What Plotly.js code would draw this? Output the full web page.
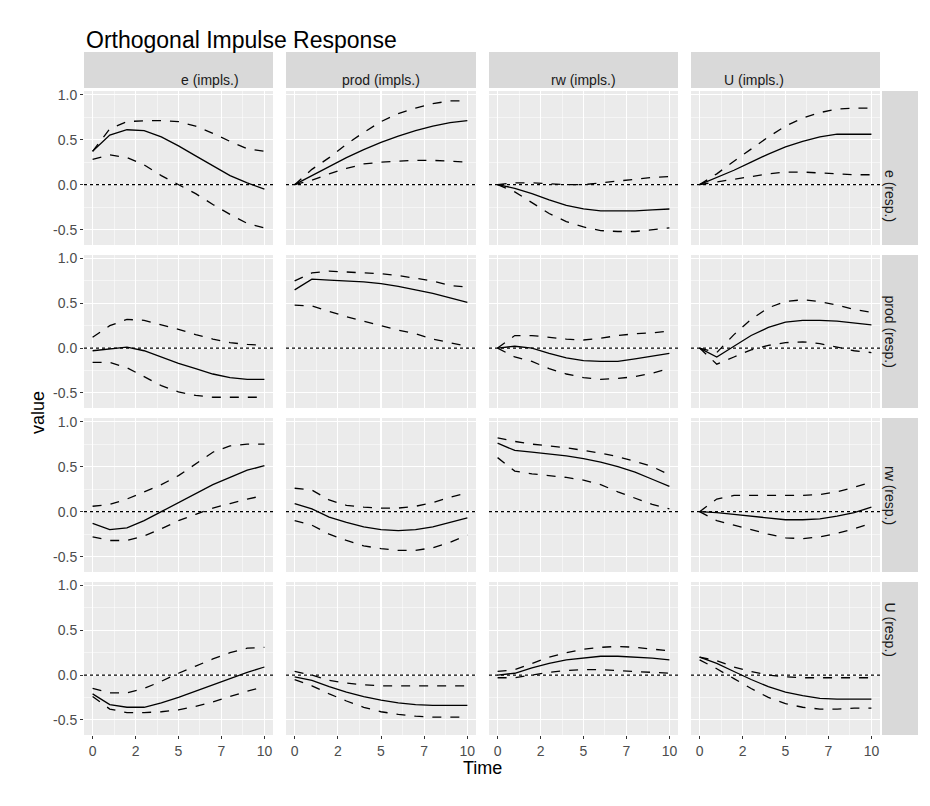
<!DOCTYPE html>
<html><head><meta charset="utf-8">
<script src="https://cdn.plot.ly/plotly-3.0.1.min.js"></script>
<style>body{margin:0}#p{width:930px;height:806px}</style></head>
<body><div id="p"></div><script>
var steps=[0,1,2,3,4,5,6,7,8,9,10];
var vars=["e","prod","rw","U"];
var xTickVals=[0,2.5,5,7.5,10], xTickText=["0","2","5","7","10"];
var yTickVals=[-0.5,0,0.5,1], yTickText=["-0.5","0.0","0.5","1.0"];
// impulse e
var irf_e_e=[0.37,0.55,0.61,0.6,0.53,0.43,0.32,0.21,0.1,0.02,-0.05];
var up_e_e=[0.37,0.62,0.7,0.71,0.71,0.7,0.65,0.57,0.48,0.4,0.37];
var lo_e_e=[0.28,0.33,0.3,0.22,0.1,0.0,-0.1,-0.22,-0.33,-0.43,-0.48];
var irf_e_prod=[-0.03,-0.01,0.01,-0.03,-0.1,-0.17,-0.23,-0.29,-0.33,-0.35,-0.35];
var up_e_prod=[0.12,0.25,0.32,0.31,0.26,0.21,0.15,0.1,0.06,0.04,0.03];
var lo_e_prod=[-0.16,-0.16,-0.22,-0.32,-0.42,-0.49,-0.53,-0.55,-0.55,-0.55,-0.55];
var irf_e_rw=[-0.13,-0.2,-0.18,-0.1,0.0,0.1,0.2,0.3,0.38,0.46,0.51];
var up_e_rw=[0.06,0.08,0.14,0.22,0.3,0.4,0.53,0.66,0.73,0.75,0.75];
var lo_e_rw=[-0.28,-0.32,-0.32,-0.27,-0.19,-0.1,-0.03,0.04,0.09,0.14,0.18];
var irf_e_U=[-0.21,-0.33,-0.36,-0.36,-0.31,-0.25,-0.18,-0.11,-0.04,0.03,0.09];
var up_e_U=[-0.15,-0.2,-0.2,-0.15,-0.07,0.02,0.1,0.18,0.25,0.3,0.31];
var lo_e_U=[-0.24,-0.38,-0.42,-0.42,-0.41,-0.39,-0.35,-0.3,-0.24,-0.18,-0.13];
// impulse prod
var irf_prod_e=[0,0.1,0.2,0.3,0.39,0.47,0.54,0.6,0.65,0.69,0.71];
var up_prod_e=[0,0.17,0.3,0.45,0.58,0.7,0.79,0.85,0.9,0.93,0.93];
var lo_prod_e=[0,0.05,0.12,0.18,0.23,0.25,0.26,0.27,0.27,0.26,0.25];
var irf_prod_prod=[0.65,0.77,0.76,0.75,0.74,0.72,0.69,0.65,0.61,0.56,0.51];
var up_prod_prod=[0.75,0.84,0.86,0.85,0.84,0.83,0.81,0.78,0.75,0.7,0.68];
var lo_prod_prod=[0.48,0.47,0.41,0.35,0.3,0.25,0.2,0.16,0.1,0.06,0.02];
var irf_prod_rw=[0.09,0.03,-0.06,-0.12,-0.17,-0.2,-0.21,-0.2,-0.17,-0.12,-0.07];
var up_prod_rw=[0.26,0.24,0.13,0.07,0.05,0.04,0.04,0.06,0.1,0.16,0.21];
var lo_prod_rw=[-0.1,-0.15,-0.25,-0.32,-0.38,-0.41,-0.43,-0.43,-0.4,-0.34,-0.26];
var irf_prod_U=[-0.02,-0.06,-0.13,-0.19,-0.24,-0.28,-0.31,-0.33,-0.34,-0.34,-0.34];
var up_prod_U=[0.04,0.0,-0.06,-0.09,-0.11,-0.12,-0.12,-0.12,-0.12,-0.12,-0.12];
var lo_prod_U=[-0.05,-0.12,-0.21,-0.29,-0.36,-0.41,-0.44,-0.46,-0.47,-0.47,-0.47];
// impulse rw
var irf_rw_e=[0,-0.04,-0.1,-0.17,-0.23,-0.27,-0.29,-0.29,-0.29,-0.28,-0.27];
var up_rw_e=[0,0.02,0.02,0.01,0.0,0.0,0.02,0.04,0.06,0.08,0.09];
var lo_rw_e=[0,-0.08,-0.2,-0.32,-0.41,-0.47,-0.51,-0.52,-0.52,-0.5,-0.48];
var irf_rw_prod=[0,0.02,0.0,-0.06,-0.11,-0.14,-0.15,-0.15,-0.12,-0.09,-0.06];
var up_rw_prod=[0,0.14,0.14,0.12,0.1,0.09,0.11,0.14,0.16,0.17,0.19];
var lo_rw_prod=[0,-0.1,-0.15,-0.23,-0.29,-0.33,-0.35,-0.34,-0.32,-0.28,-0.23];
var irf_rw_rw=[0.76,0.68,0.66,0.64,0.62,0.59,0.55,0.5,0.44,0.36,0.28];
var up_rw_rw=[0.82,0.78,0.75,0.73,0.71,0.68,0.65,0.61,0.56,0.5,0.41];
var lo_rw_rw=[0.6,0.45,0.42,0.4,0.38,0.35,0.3,0.22,0.15,0.08,0.03];
var irf_rw_U=[0.0,0.02,0.08,0.13,0.17,0.19,0.21,0.21,0.2,0.19,0.17];
var up_rw_U=[0.04,0.06,0.13,0.2,0.25,0.29,0.31,0.32,0.31,0.29,0.27];
var lo_rw_U=[-0.03,-0.03,0.0,0.03,0.05,0.06,0.06,0.05,0.04,0.03,0.02];
// impulse U
var irf_U_e=[0,0.08,0.16,0.25,0.34,0.42,0.48,0.53,0.56,0.56,0.56];
var up_U_e=[0,0.12,0.26,0.4,0.53,0.65,0.74,0.8,0.84,0.85,0.85];
var lo_U_e=[0,0.03,0.06,0.09,0.12,0.14,0.14,0.13,0.12,0.11,0.11];
var irf_U_prod=[0,-0.1,0.02,0.14,0.23,0.29,0.31,0.31,0.3,0.28,0.26];
var up_U_prod=[0,-0.05,0.15,0.32,0.45,0.52,0.54,0.52,0.48,0.43,0.4];
var lo_U_prod=[0,-0.18,-0.1,-0.02,0.03,0.06,0.07,0.05,0.01,-0.03,-0.05];
var irf_U_rw=[0,-0.01,-0.03,-0.05,-0.07,-0.09,-0.09,-0.08,-0.05,-0.01,0.05];
var up_U_rw=[0,0.14,0.18,0.18,0.18,0.18,0.18,0.19,0.22,0.27,0.33];
var lo_U_rw=[0,-0.1,-0.15,-0.2,-0.25,-0.29,-0.3,-0.28,-0.24,-0.19,-0.13];
var irf_U_U=[0.2,0.13,0.04,-0.05,-0.13,-0.19,-0.23,-0.26,-0.27,-0.27,-0.27];
var up_U_U=[0.2,0.16,0.09,0.04,0.0,-0.02,-0.03,-0.03,-0.03,-0.03,-0.03];
var lo_U_U=[0.17,0.07,-0.04,-0.15,-0.25,-0.32,-0.36,-0.38,-0.38,-0.37,-0.37];

var W=930,H=806;
var colX=[[84,273],[286,476],[489,678],[691,880]];
var rowY=[[91,245],[255,408],[418,572],[582,735]];
var data=[],layout={width:W,height:H,margin:{l:0,r:0,t:0,b:0},paper_bgcolor:"#fff",plot_bgcolor:"#EBEBEB",
 showlegend:false,shapes:[],annotations:[],font:{family:"Liberation Sans, Arial",color:"#4D4D4D"}};
for(var r=0;r<4;r++)for(var c=0;c<4;c++){
 var i=r*4+c+1, sfx=i==1?"":i, imp=vars[c], resp=vars[r];
 var irf=window["irf_"+imp+"_"+resp], up=window["up_"+imp+"_"+resp], lo=window["lo_"+imp+"_"+resp];
 var ax={xaxis:"x"+sfx,yaxis:"y"+sfx,type:"scatter",mode:"lines",x:steps,hoverinfo:"skip"};
 data.push(Object.assign({},ax,{y:irf,line:{color:"#000",width:1.3}}));
 data.push(Object.assign({},ax,{y:up,line:{color:"#000",width:1.3,dash:"dash"}}));
 data.push(Object.assign({},ax,{y:lo,line:{color:"#000",width:1.3,dash:"dash"}}));
 layout["xaxis"+sfx]={domain:[colX[c][0]/W,colX[c][1]/W],anchor:"y"+sfx,range:[-0.5,10.5],
  tickvals:xTickVals,ticktext:xTickText,showticklabels:r==3,ticks:r==3?"outside":"",ticklen:3,tickcolor:"#333",
  tickfont:{size:14,color:"#4D4D4D"},gridcolor:"#fff",gridwidth:1.1,zeroline:false,showline:false,
  minor:{tickvals:[1.25,3.75,6.25,8.75],showgrid:true,gridcolor:"#fff",gridwidth:0.5}};
 layout["yaxis"+sfx]={domain:[1-rowY[r][1]/H,1-rowY[r][0]/H],anchor:"x"+sfx,range:[-0.67,1.04],
  tickvals:yTickVals,ticktext:yTickText,showticklabels:c==0,ticks:c==0?"outside":"",ticklen:3,tickcolor:"#333",
  tickfont:{size:14,color:"#4D4D4D"},gridcolor:"#fff",gridwidth:1.1,zeroline:false,showline:false,
  minor:{tickvals:[-0.25,0.25,0.75],showgrid:true,gridcolor:"#fff",gridwidth:0.5}};
 layout.shapes.push({type:"line",xref:"x"+sfx+" domain",yref:"y"+sfx,x0:0,x1:1,y0:0,y1:0,line:{color:"#000",width:1.3,dash:"dot"}});
}
for(var c=0;c<4;c++){
 layout.shapes.push({type:"rect",xref:"paper",yref:"paper",x0:colX[c][0]/W,x1:colX[c][1]/W,y0:1-88/H,y1:1-52/H,fillcolor:"#D9D9D9",line:{width:0}});
 layout.annotations.push({xref:"paper",yref:"paper",x:(colX[c][0]+colX[c][1])/2/W,y:1-70/H,text:vars[c]+" (impls.)",showarrow:false,font:{size:14,color:"#1A1A1A"}});
}
for(var r=0;r<4;r++){
 layout.shapes.push({type:"rect",xref:"paper",yref:"paper",x0:882/W,x1:918/W,y0:1-rowY[r][1]/H,y1:1-rowY[r][0]/H,fillcolor:"#D9D9D9",line:{width:0}});
 layout.annotations.push({xref:"paper",yref:"paper",x:900/W,y:1-(rowY[r][0]+rowY[r][1])/2/H,text:vars[r]+" (resp.)",textangle:90,showarrow:false,font:{size:14,color:"#1A1A1A"}});
}
layout.annotations.push({xref:"paper",yref:"paper",x:84/W,y:1-25/H,xanchor:"left",text:"Orthogonal Impulse Response",showarrow:false,font:{size:23,color:"#000"}});
layout.annotations.push({xref:"paper",yref:"paper",x:482/W,y:1-780/H,text:"Time",showarrow:false,font:{size:18,color:"#000"}});
layout.annotations.push({xref:"paper",yref:"paper",x:26/W,y:1-413/H,text:"value",textangle:-90,showarrow:false,font:{size:18,color:"#000"}});
Plotly.newPlot("p",data,layout,{staticPlot:true});
</script></body></html>
